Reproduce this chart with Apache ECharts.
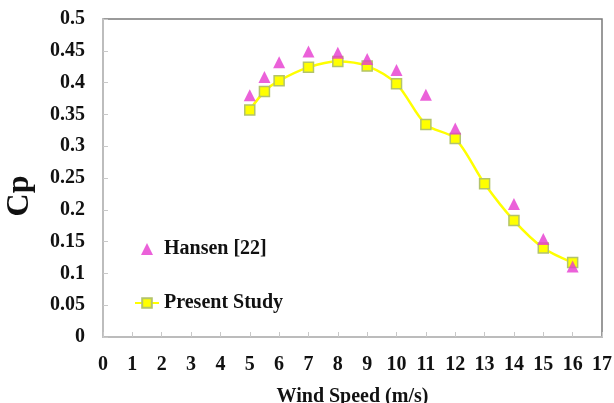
<!DOCTYPE html>
<html>
<head>
<meta charset="utf-8">
<script src="https://cdn.jsdelivr.net/npm/echarts@6/dist/echarts.min.js"></script>
<style>
  html, body { margin: 0; padding: 0; background: #fff; }
  #chart { width: 614px; height: 403px; }
</style>
</head>
<body>
<div id="chart"></div>
<script>
// data
var studyX = [5, 5.5, 6, 7, 8, 9, 10, 11, 12, 13, 14, 15, 16];
var studyCp = [0.357, 0.386, 0.403, 0.424, 0.433, 0.426, 0.398, 0.334, 0.312, 0.241, 0.183, 0.140, 0.117];

var hansenX = [5, 5.5, 6, 7, 8, 9, 10, 11, 12, 14, 15, 16];
var hansenCp = [0.380, 0.409, 0.432, 0.449, 0.447, 0.437, 0.420, 0.381, 0.328, 0.209, 0.154, 0.111];

var seriesNames = ["Hansen [22]", "Present Study"];

function pairs(xs, ys) {
  var out = [];
  for (var i = 0; i < xs.length; i++) {
    out.push([xs[i], ys[i]]);
  }
  return out;
}

var serif = "'Liberation Serif', 'DejaVu Serif', serif";

var option = {
  backgroundColor: "#fff",
  animation: false,
  grid: {
    left: 103,
    right: 12,
    top: 19,
    bottom: 66,
    outerBoundsMode: "none",
    containLabel: false,
    show: true,
    borderColor: "#7a7a7a",
    borderWidth: 1.5
  },
  graphic: [
    {
      type: "text",
      x: 20,
      y: 196,
      rotation: Math.PI / 2,
      style: {
        text: "Cp",
        fontFamily: serif,
        fontWeight: "bold",
        fontSize: 32,
        fill: "#111",
        align: "center",
        verticalAlign: "middle"
      }
    }
  ],
  legend: {
    data: [
      { name: seriesNames[0], icon: "path://M5,0 L10,10 L0,10 Z" },
      { name: seriesNames[1] }
    ],
    orient: "vertical",
    left: 129,
    top: 234,
    itemGap: 34,
    itemWidth: 24,
    itemHeight: 12,
    textStyle: {
      fontFamily: serif,
      fontWeight: "bold",
      fontSize: 20,
      color: "#111"
    }
  },
  xAxis: {
    type: "value",
    min: 0,
    max: 17,
    interval: 1,
    name: "Wind Speed (m/s)",
    nameLocation: "middle",
    nameGap: 50,
    nameTextStyle: {
      fontFamily: serif,
      fontWeight: "bold",
      fontSize: 20,
      color: "#111"
    },
    axisLine: { lineStyle: { color: "#c8c8c8", width: 1.5 } },
    axisTick: { inside: true, length: 5, lineStyle: { color: "#c8c8c8" } },
    axisLabel: {
      margin: 18,
      fontFamily: serif,
      fontWeight: "bold",
      fontSize: 20,
      color: "#111"
    },
    splitLine: { show: false }
  },
  yAxis: {
    type: "value",
    min: 0,
    max: 0.5,
    interval: 0.05,
    axisLine: { show: true, lineStyle: { color: "#c8c8c8", width: 1.5 } },
    axisTick: { show: true, inside: true, length: 5, lineStyle: { color: "#c8c8c8" } },
    axisLabel: {
      margin: 18,
      fontFamily: serif,
      fontWeight: "bold",
      fontSize: 20,
      color: "#111",
      formatter: function (v) {
        return String(Math.round(v * 100) / 100);
      }
    },
    splitLine: { show: false }
  },
  series: [
    {
      name: seriesNames[1],
      type: "line",
      data: pairs(studyX, studyCp),
      smooth: 0.3,
      symbol: "rect",
      symbolSize: 10,
      lineStyle: { color: "#ffff00", width: 2.5 },
      itemStyle: { color: "#ffff00", borderColor: "#b3c46a", borderWidth: 1.5 },
      z: 2
    },
    {
      name: seriesNames[0],
      type: "scatter",
      data: pairs(hansenX, hansenCp),
      symbol: "triangle",
      symbolSize: [12, 12],
      itemStyle: { color: "#e63ad0" },
      z: 3
    }
  ]
};

var dom = document.getElementById("chart");
var myChart = echarts.init(dom);
myChart.setOption(option);
</script>
</body>
</html>
